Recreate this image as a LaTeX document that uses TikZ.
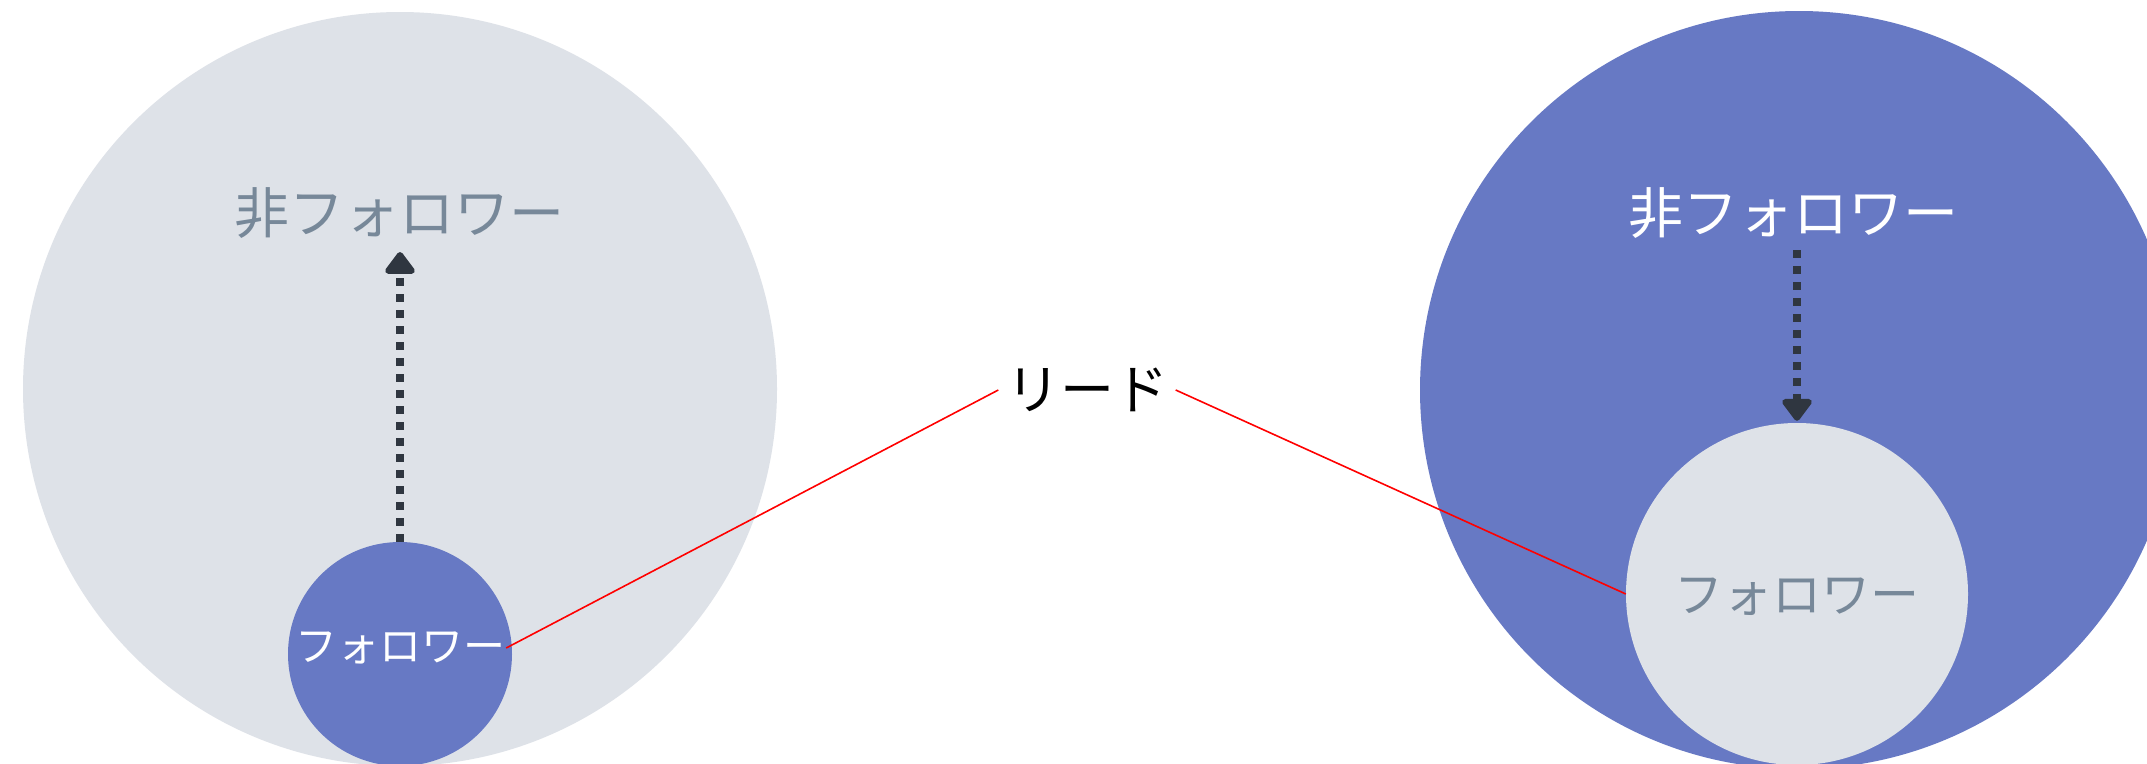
\documentclass[tikz,border=0pt]{standalone}
\usepackage{fontspec}
\newfontfamily\jp{Noto Sans CJK JP}
\usetikzlibrary{arrows.meta}
\definecolor{lightgrey}{HTML}{DEE2E8}
\definecolor{blueish}{HTML}{6779C4}
\definecolor{slate}{HTML}{778899}
\definecolor{darkarrow}{HTML}{2F3640}
\tikzset{
  bigcircle/.style={circle, inner sep=0pt, draw=none},
  lbl/.style={inner sep=0pt, font=\jp},
  dotarrow/.style={draw=darkarrow, line width=8pt, dash pattern=on 8pt off 8pt,
    -{Triangle[width=34pt,length=24pt,round]}, shorten >=2pt},
  redline/.style={draw=red, line width=1.6pt}
}
\begin{document}
\begin{tikzpicture}[x=1pt,y=-1pt]
\useasboundingbox (0,0) rectangle (2147,763);
\clip (0,0) rectangle (2147,763);
\fill[white] (0,0) rectangle (2147,763);
% left group
\node[bigcircle, fill=lightgrey, minimum size=754pt] (lb) at (400,389) {};
\node[bigcircle, fill=blueish, minimum size=224pt] (ls) at (400,654) {};
\node[lbl, text=slate, font=\jp\fontsize{55pt}{60pt}\selectfont] (lnf) at (399,213) {非フォロワー};
\node[lbl, text=white, font=\jp\fontsize{42pt}{46pt}\selectfont, minimum width=212pt] (lf) at (400,648) {フォロワー};
\coordinate (ltip) at (400,250);
% right group
\node[bigcircle, fill=blueish, minimum size=758pt] (rb) at (1799,390) {};
\node[bigcircle, fill=lightgrey, minimum size=342pt] (rs) at (1797,594) {};
\node[lbl, text=white, font=\jp\fontsize{55pt}{60pt}\selectfont] (rnf) at (1793,213) {非フォロワー};
\node[lbl, text=slate, font=\jp\fontsize{49pt}{54pt}\selectfont] (rf) at (1797,597) {フォロワー};
\coordinate (rtop) at (1797,250);
% lead
\node[lbl, text=black, font=\jp\fontsize{54pt}{58pt}\selectfont, minimum width=177pt] (lead) at (1087,390) {リード};
% connectors
\draw[dotarrow] (ls.north) -- (ltip);
\draw[dotarrow] (rtop) -- (rs.north);
\draw[redline] (lf.east) -- (lead.west);
\draw[redline] (lead.east) -- (rs.west);
\end{tikzpicture}
\end{document}
